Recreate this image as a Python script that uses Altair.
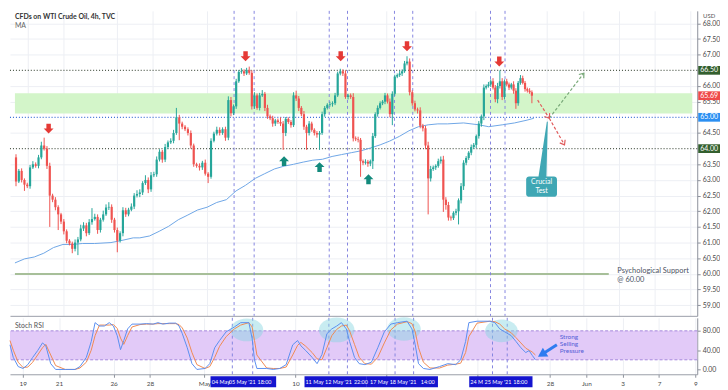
import altair as alt
import numpy as np
import pandas as pd

W, H_TOP, H_BOT = 694, 308, 57
T_MIN, T_MAX = -0.70, 37.10

# ---------------- data (time = trading days since 19 Apr 2021) ----------------
first_open = 63.72
closes = [
    62.95, 63.29, 63.00, 62.85, 62.80, 63.40, 63.50, 63.45, 63.72, 64.10,
    64.00, 63.45, 62.50, 62.37, 62.13, 61.90, 61.67, 61.36, 61.06, 60.97,
    60.80, 61.00, 61.10, 61.45, 61.55, 61.30, 61.65, 61.75, 61.82, 61.40,
    61.73, 61.90, 62.12, 62.14, 61.73, 61.40, 61.06, 61.30, 62.03, 61.90,
    62.05, 62.15, 62.50, 62.55, 62.60, 62.90, 63.00, 62.70, 63.15, 63.18,
    63.65, 63.90, 63.65, 64.05, 64.20, 64.25, 64.50, 65.00, 64.80, 64.70,
    64.62, 64.50, 64.10, 63.50, 63.45, 63.40, 63.55, 63.20, 63.10, 64.25,
    64.48, 64.60, 64.50, 64.62, 64.35, 65.55, 65.13, 65.35, 66.15, 66.45,
    66.47, 66.40, 66.50, 66.42, 65.35, 65.70, 65.30, 65.70, 65.75, 65.30,
    65.03, 64.97, 64.80, 64.90, 64.85, 64.80, 64.50, 64.95, 64.85, 64.75,
    65.70, 65.60, 65.30, 65.10, 64.70, 64.50, 64.80, 64.60, 64.50, 64.45,
    64.50, 65.10, 65.30, 65.40, 65.42, 65.45, 65.70, 66.40, 66.47, 66.40,
    65.65, 65.70, 65.65, 64.33, 64.30, 64.28, 63.60, 63.55, 63.58, 63.52,
    63.60, 64.40, 65.10, 65.30, 65.45, 65.50, 65.70, 65.50, 65.10, 65.75,
    66.30, 66.35, 66.40, 66.47, 66.72, 66.78, 65.80, 65.45, 65.25, 65.22,
    64.73, 64.65, 64.10, 63.05, 63.35, 63.40, 63.45, 63.60, 63.65, 62.37,
    62.20, 61.80, 61.78, 61.95, 62.00, 62.35, 62.80, 63.55, 63.70, 63.87,
    64.05, 64.12, 64.40, 64.80, 65.03, 65.95, 66.00, 66.05, 66.15, 65.95,
    65.58, 66.00, 66.15, 65.65, 66.15, 66.05, 65.95, 66.05, 65.85, 65.45,
    66.10, 66.25, 66.10, 65.90, 65.85, 65.80, 65.69,
]
upper_wick = [
    0.10, 0.06, 0.08, 0.05, 0.06, 0.08, 0.10, 0.06, 0.08, 0.12,
    0.25, 0.08, 0.10, 0.06, 0.08, 0.06, 0.05, 0.08, 0.06, 0.05,
    0.06, 0.10, 0.08, 0.12, 0.10, 0.08, 0.10, 0.35, 0.10, 0.08,
    0.06, 0.12, 0.10, 0.15, 0.08, 0.06, 0.08, 0.06, 0.10, 0.08,
    0.06, 0.10, 0.08, 0.12, 0.10, 0.06, 0.15, 0.08, 0.10, 0.08,
    0.10, 0.08, 0.06, 0.10, 0.06, 0.08, 0.10, 0.30, 0.08, 0.06,
    0.05, 0.06, 0.08, 0.06, 0.05, 0.08, 0.06, 0.10, 0.05, 0.08,
    0.06, 0.10, 0.08, 0.06, 0.08, 0.12, 0.10, 0.06, 0.08, 0.06,
    0.10, 0.06, 0.08, 0.12, 0.08, 0.10, 0.06, 0.08, 0.12, 0.06,
    0.10, 0.06, 0.08, 0.05, 0.06, 0.15, 0.08, 0.06, 0.05, 0.06,
    0.10, 0.15, 0.08, 0.06, 0.10, 0.06, 0.08, 0.06, 0.05, 0.06,
    0.06, 0.08, 0.06, 0.05, 0.08, 0.06, 0.08, 0.06, 0.08, 0.06,
    0.10, 0.05, 0.06, 0.12, 0.06, 0.08, 0.06, 0.05, 0.08, 0.06,
    0.05, 0.10, 0.06, 0.08, 0.06, 0.05, 0.08, 0.06, 0.10, 0.08,
    0.06, 0.05, 0.08, 0.06, 0.08, 0.17, 0.10, 0.06, 0.08, 0.06,
    0.10, 0.06, 0.08, 0.12, 0.10, 0.06, 0.05, 0.08, 0.10, 0.12,
    0.08, 0.10, 0.06, 0.05, 0.08, 0.06, 0.10, 0.08, 0.06, 0.05,
    0.08, 0.06, 0.05, 0.08, 0.06, 0.10, 0.05, 0.08, 0.06, 0.10,
    0.08, 0.10, 0.35, 0.10, 0.06, 0.08, 0.06, 0.05, 0.10, 0.08,
    0.06, 0.10, 0.08, 0.06, 0.05, 0.08, 0.06,
]
lower_wick = [
    0.15, 0.05, 0.08, 0.20, 0.06, 0.08, 0.05, 0.06, 0.08, 0.06,
    0.06, 0.10, 1.00, 0.08, 0.10, 0.50, 0.08, 0.10, 0.08, 0.06,
    0.14, 0.08, 0.40, 0.06, 0.08, 0.10, 0.06, 0.08, 0.05, 0.12,
    0.08, 0.06, 0.05, 0.08, 0.10, 0.08, 0.37, 0.06, 0.10, 0.08,
    0.06, 0.05, 0.08, 0.06, 0.10, 0.08, 0.06, 0.12, 0.08, 0.06,
    0.08, 0.06, 0.10, 0.08, 0.06, 0.05, 0.08, 0.06, 0.53, 0.08,
    0.06, 0.08, 0.10, 0.08, 0.06, 0.10, 0.08, 0.06, 0.20, 0.06,
    0.05, 0.06, 0.08, 0.06, 0.10, 0.08, 0.10, 0.06, 0.08, 0.05,
    0.06, 0.08, 0.05, 0.06, 0.10, 0.08, 0.06, 0.08, 0.05, 0.10,
    0.08, 0.06, 0.10, 0.08, 0.06, 0.08, 0.54, 0.10, 0.06, 0.08,
    0.06, 0.08, 0.10, 0.06, 0.10, 0.54, 0.08, 0.06, 0.08, 0.10,
    0.49, 0.06, 0.08, 0.05, 0.06, 0.08, 0.06, 0.05, 0.06, 0.08,
    0.06, 0.08, 0.06, 0.10, 0.06, 0.08, 0.50, 0.08, 0.06, 0.10,
    0.08, 0.25, 0.06, 0.08, 0.05, 0.06, 0.08, 0.06, 0.10, 0.35,
    0.06, 0.05, 0.06, 0.08, 0.05, 0.06, 0.10, 0.08, 0.06, 0.10,
    0.08, 0.10, 0.12, 1.15, 0.10, 0.06, 0.08, 0.06, 0.08, 0.39,
    0.15, 0.10, 0.08, 0.06, 0.08, 0.42, 0.10, 0.12, 0.08, 0.06,
    0.08, 0.06, 0.10, 0.08, 0.10, 0.12, 0.06, 0.05, 0.08, 0.06,
    0.10, 0.13, 0.08, 0.10, 0.08, 0.06, 0.08, 0.06, 0.10, 0.18,
    0.08, 0.06, 0.05, 0.08, 0.06, 0.05, 0.24,
]
# candle index -> time anchors
anchor_index = [0, 57, 75, 100, 123, 145, 153, 175, 196]
anchor_time = [-0.64, 8.31, 11.21, 14.85, 18.18, 21.18, 22.36, 25.47, 28.15]

ma_time = [-0.70, -0.16, 0.38, 0.91, 1.45, 1.98, 2.52, 3.06, 3.75, 4.66,
           5.20, 5.90, 6.27, 6.81, 7.35, 7.88, 8.42, 8.95, 9.49, 10.03,
           10.56, 11.10, 11.64, 12.17, 12.71, 13.24, 13.78, 14.32, 14.85, 15.39,
           15.92, 16.46, 17.00, 17.53, 18.07, 18.61, 19.14, 19.68, 20.21, 20.75,
           21.29, 21.82, 22.36, 22.90, 23.43, 24.34, 25.20, 25.74, 26.49, 27.18,
           27.88, 28.26]
ma_value = [60.35, 60.48, 60.54, 60.66, 60.84, 60.94, 60.94, 60.97, 60.97, 61.00,
            61.06, 61.15, 61.15, 61.21, 61.36, 61.52, 61.73, 61.88, 62.04, 62.13,
            62.28, 62.37, 62.65, 62.83, 63.05, 63.20, 63.35, 63.44, 63.50, 63.57,
            63.63, 63.66, 63.75, 63.81, 63.87, 63.93, 64.02, 64.12, 64.24, 64.39,
            64.57, 64.70, 64.76, 64.79, 64.79, 64.82, 64.76, 64.70, 64.76, 64.82,
            64.91, 64.97]

stoch_time = [-0.70, -0.52, -0.25, 0.02, 0.28, 0.55, 0.82, 1.09, 1.27, 1.54,
              1.81, 2.34, 2.88, 3.15, 3.50, 3.77, 3.98, 4.22, 4.49, 4.76,
              4.99, 5.20, 5.38, 5.56, 5.77, 6.01, 6.45, 6.81, 7.17, 7.44,
              7.71, 8.06, 8.42, 8.60, 8.78, 9.05, 9.31, 9.58, 10.03, 10.29,
              10.56, 10.83, 11.19, 11.64, 11.99, 12.44, 12.62, 12.75, 12.88, 13.42,
              13.78, 14.14, 14.49, 14.85, 15.12, 15.30, 15.57, 15.92, 16.19, 16.46,
              16.73, 17.00, 17.27, 17.53, 17.80, 17.98, 18.25, 18.51, 18.82, 19.18,
              19.53, 19.89, 20.25, 20.61, 21.14, 21.41, 21.59, 21.77, 22.04, 22.40,
              22.93, 23.38, 23.82, 24.09, 24.36, 24.54, 24.99, 25.70, 25.97, 26.24,
              26.51, 26.87, 27.13, 27.40, 27.67, 27.85, 28.03, 28.20]
stoch_k = [51, 25, 6, 2, 10, 25, 39, 55, 49, 12,
           0, 0, 0, 6, 25, 58, 97, 90, 90, 97,
           90, 70, 41, 60, 84, 94, 94, 95, 94, 97,
           94, 96, 96, 90, 74, 45, 12, 0, 2, 12,
           45, 60, 78, 88, 97, 97, 64, 20, 2, 2,
           0, 2, 10, 51, 60, 49, 39, 25, 12, 31,
           74, 84, 90, 97, 84, 58, 25, 12, 10, 15,
           45, 78, 94, 97, 100, 84, 51, 12, 2, 0,
           6, 12, 10, 20, 58, 97, 100, 100, 97, 84,
           78, 70, 58, 45, 35, 39, 29, 20]
stoch_d = [60, 40, 15, 4, 5, 15, 30, 45, 52, 30,
           8, 0, 0, 3, 15, 40, 70, 92, 92, 92,
           93, 85, 65, 52, 70, 88, 93, 94, 94, 95,
           95, 95, 95, 93, 86, 65, 35, 10, 2, 6,
           25, 48, 68, 84, 92, 97, 88, 60, 30, 3,
           2, 2, 5, 30, 50, 56, 48, 35, 22, 20,
           45, 70, 83, 90, 92, 80, 52, 25, 12, 11,
           25, 55, 82, 94, 99, 95, 78, 45, 15, 3,
           3, 9, 11, 13, 35, 68, 96, 100, 99, 94,
           84, 76, 66, 55, 44, 40, 36, 30]

axis_ticks = [0, 2, 5, 7, 10, 15, 20, 25, 29, 31, 33, 35, 37]
axis_tick_labels = ['19', '21', '26', '28', 'May', '10', '', '', '28', 'Jun', '3', '7', '9']
# price scale labels (66.50, 65.00 and 64.00 are shown by the coloured level tags)
price_ticks = [59.0, 59.5, 60.0, 60.5, 61.0, 61.5, 62.0, 62.5, 63.0, 63.5,
               64.5, 65.5, 66.0, 67.0, 67.5, 68.0]
stoch_ticks = [0, 40, 80]

event_times = [11.53, 12.65, 16.84, 17.86, 20.48, 21.50, 25.84, 26.65]
zone = [65.12, 65.77]
levels = [66.50, 65.00, 64.00]
level_colors = ['#4f5a4c', '#3a6fd6', '#4f5a4c']
psych_level = 60.00
psych_end = 32.44

peak_time = [1.18, 12.17, 17.48, 21.18, 26.33]
peak_price = [64.64, 66.95, 66.95, 67.27, 66.78]
trough_time = [14.32, 16.30, 19.03]
trough_price = [63.60, 63.41, 63.02]

proj_seg = ['a', 'a', 'b', 'b', 'c', 'c']
proj_order = [0, 1, 0, 1, 0, 1]
proj_time = [28.47, 29.12, 29.12, 31.05, 29.12, 29.97]
proj_price = [65.55, 64.97, 64.97, 66.41, 64.97, 64.12]
proj_color = ['#e05a5a', '#e05a5a', '#78a878', '#78a878', '#e05a5a', '#e05a5a']
head_time = [29.12, 31.05, 29.97]
head_price = [64.97, 66.41, 64.12]
head_angle = [57, 308, 60]
head_color = ['#e05a5a', '#78a878', '#e05a5a']

tag_price = [66.50, 65.69, 65.00, 64.00]
tag_text = ['66.50', '65.69', '65.00', '64.00']
tag_color = ['#335f2e', '#ef4a4a', '#2b8ff2', '#335f2e']

callout_time = [27.83, 29.55]
callout_price = [62.46, 63.11]
pointer_time = [29.01, 28.74]
pointer_price = [64.85, 63.10]
pointer_width = [0, 8]
callout_text = ['Crucial', 'Test']
callout_text_time = [28.69, 28.69]
callout_text_price = [62.93, 62.65]

psych_text = ['Psychological Support', '@ 60.00']
psych_text_time = [32.92, 32.92]
psych_text_price = [60.08, 59.80]

date_box_start = [10.33, 15.50, 18.93, 24.56]
date_box_end = [13.94, 18.93, 22.84, 28.04]
date_label_time = [10.90, 12.07, 13.30, 16.05, 17.37, 18.60, 19.60, 20.92, 22.28, 24.97, 26.14, 27.37]
date_label_text = ['04 May', "05 May '21", '18:00', '11 May', "12 May '21", '22:00',
                   '17 May', "18 May '21", '14:00', '24 M', "25 May '21", '18:00']

ellipse_time = [12.33, 17.27, 20.97, 26.33]
ellipse_value = [82, 82, 84, 80]
ellipse_width = [33, 36, 34, 33]

selling_text = ['Strong', 'Selling', 'Pressure']
selling_time = [29.54, 29.54, 29.54]
selling_value = [68, 53, 38]
blue_arrow_time = [29.38, 28.55]
blue_arrow_value = [51, 31]

# ---------------- derived tables ----------------
n = len(closes)
opens = [first_open] + closes[:-1]
candles = pd.DataFrame({
    't': np.interp(np.arange(n), anchor_index, anchor_time),
    'open': opens,
    'close': closes,
})
candles['high'] = np.maximum(candles['open'], candles['close']) + np.array(upper_wick)
candles['low'] = np.minimum(candles['open'], candles['close']) - np.array(lower_wick)
candles['dir'] = np.where(candles['close'] >= candles['open'], 'up', 'down')

xs = alt.Scale(domain=[T_MIN, T_MAX], nice=False, zero=False)
ys_top = alt.Scale(domain=[58.66, 68.40], nice=False, zero=False)
ys_bot = alt.Scale(domain=[-10, 107], nice=False, zero=False)
GRID = '#edeff4'
AX = '#8d919b'

label_expr = ' : '.join(f"datum.value == {v} ? '{s}'" for v, s in zip(axis_ticks, axis_tick_labels)) + " : ''"

x_axis_top = alt.Axis(values=axis_ticks, labels=False, ticks=False, domain=True,
                      domainColor='#9a9ea8', grid=True, gridColor=GRID, title=None)
y_axis_top = alt.Axis(orient='right', values=price_ticks, tickCount=20, format='.2f', grid=True,
                      gridColor=GRID, tickSize=3, tickColor=AX, domainColor=AX, labelFontSize=7,
                      labelColor='#4a4a4a', labelPadding=2, labelOverlap=False, labelFlush=False,
                      title=None)
x_axis_bot = alt.Axis(values=axis_ticks, labelExpr=label_expr, grid=True, gridColor=GRID,
                      tickSize=3, tickColor=AX, domainColor='#9a9ea8', labelFontSize=6.5,
                      labelColor='#4a4a4a', labelPadding=3, labelFlush=False,
                      labelOverlap=False, title=None)
y_axis_bot = alt.Axis(orient='right', values=stoch_ticks, format='.2f', grid=False,
                      tickSize=3, tickColor=AX, domainColor=AX, labelFontSize=7,
                      labelColor='#4a4a4a', labelPadding=2, labelOverlap=False, labelFlush=False,
                      title=None)

ARROW_DOWN = 'M-0.45,-1 L0.45,-1 L0.45,0 L1,0 L0,1 L-1,0 L-0.45,0 Z'
ARROW_UP = 'M-0.45,1 L0.45,1 L0.45,0 L1,0 L0,-1 L-1,0 L-0.45,0 Z'
CHEVRON = 'M-1,-0.75 L0,0 L-1,0.75'
TAG = 'M-1,-0.4 L1,-0.4 L1,0.4 L-1,0.4 Z'
ELLIPSE = 'M-1,0 A1,0.7 0 1,0 1,0 A1,0.7 0 1,0 -1,0 Z'

def Tt(f):
    return alt.X(f, type='quantitative', scale=xs, axis=x_axis_top, title=None)

def Tb(f):
    return alt.X(f, type='quantitative', scale=xs, axis=x_axis_bot, title=None)

def P(f):
    return alt.Y(f, type='quantitative', scale=ys_top, axis=y_axis_top, title=None)

def V(f):
    return alt.Y(f, type='quantitative', scale=ys_bot, axis=y_axis_bot, title=None)

# ---------------- top panel ----------------
band = alt.Chart(pd.DataFrame({'t1': [T_MIN], 't2': [T_MAX], 'p1': [zone[0]], 'p2': [zone[1]]})).mark_rect(
    color='#d3f5c9').encode(x=Tt('t1'), x2='t2:Q', y=P('p1'), y2='p2:Q')

level_lines = alt.Chart(pd.DataFrame({'p': levels, 'c': level_colors})).mark_rule(
    strokeDash=[1, 2], strokeWidth=1.2).encode(y=P('p'), color=alt.Color('c:N', scale=None))

psych_line = alt.Chart(pd.DataFrame({'t1': [T_MIN], 't2': [psych_end], 'p': [psych_level]})).mark_rule(
    color='#a7bf99', strokeWidth=2).encode(x=Tt('t1'), x2='t2:Q', y=P('p'))

event_df = pd.DataFrame({'t': event_times})
vlines_top = alt.Chart(event_df).mark_rule(strokeDash=[3, 3], color='#8585e0', strokeWidth=1).encode(x=Tt('t'))

ma_line = alt.Chart(pd.DataFrame({'t': ma_time, 'p': ma_value})).mark_line(
    color='#6ea6e6', strokeWidth=1).encode(x=Tt('t'), y=P('p'))

cscale = alt.Scale(domain=['up', 'down'], range=['#26a69a', '#ef5350'])
wicks = alt.Chart(candles).mark_rule(strokeWidth=1).encode(
    x=Tt('t'), y=P('low'), y2='high:Q', color=alt.Color('dir:N', scale=cscale, legend=None))
bodies = alt.Chart(candles).mark_bar(size=2.2).encode(
    x=Tt('t'), y=P('open'), y2='close:Q', color=alt.Color('dir:N', scale=cscale, legend=None))

peaks = alt.Chart(pd.DataFrame({'t': peak_time, 'p': peak_price})).mark_point(
    shape=ARROW_DOWN, filled=True, size=100, opacity=1, color='#e53935').encode(x=Tt('t'), y=P('p'))
troughs = alt.Chart(pd.DataFrame({'t': trough_time, 'p': trough_price})).mark_point(
    shape=ARROW_UP, filled=True, size=100, opacity=1, color='#138a7c').encode(x=Tt('t'), y=P('p'))

proj = alt.Chart(pd.DataFrame({'seg': proj_seg, 'o': proj_order, 't': proj_time, 'p': proj_price, 'c': proj_color})).mark_line(
    strokeDash=[3, 2], strokeWidth=1.2).encode(
    x=Tt('t'), y=P('p'), detail='seg:N', order=alt.Order('o:Q'), color=alt.Color('c:N', scale=None))
heads = alt.Chart(pd.DataFrame({'t': head_time, 'p': head_price, 'a': head_angle, 'c': head_color})).mark_point(
    shape=CHEVRON, filled=False, strokeWidth=1.2, size=70, opacity=1).encode(
    x=Tt('t'), y=P('p'), angle=alt.Angle('a:Q', scale=None), color=alt.Color('c:N', scale=None))

pointer = alt.Chart(pd.DataFrame({'t': pointer_time, 'p': pointer_price, 'w': pointer_width, 'o': [0, 1]})).mark_trail(
    color='#3fa7b4').encode(x=Tt('t'), y=P('p'), size=alt.Size('w:Q', scale=None, legend=None), order=alt.Order('o:Q'))
callout = alt.Chart(pd.DataFrame({'t1': [callout_time[0]], 't2': [callout_time[1]],
                                  'p1': [callout_price[0]], 'p2': [callout_price[1]]})).mark_rect(
    color='#3fa7b4', cornerRadius=3).encode(x=Tt('t1'), x2='t2:Q', y=P('p1'), y2='p2:Q')
callout_lbl = alt.Chart(pd.DataFrame({'t': callout_text_time, 'p': callout_text_price, 's': callout_text})).mark_text(
    color='white', fontSize=7).encode(x=Tt('t'), y=P('p'), text='s:N')

psych_lbl = alt.Chart(pd.DataFrame({'t': psych_text_time, 'p': psych_text_price, 's': psych_text})).mark_text(
    color='#4b5262', fontSize=7.5, align='left').encode(x=Tt('t'), y=P('p'), text='s:N')

tags = alt.Chart(pd.DataFrame({'p': tag_price, 'c': tag_color})).mark_point(
    shape=TAG, filled=True, size=484, opacity=1).encode(
    x=alt.value(W + 12), y=P('p'), color=alt.Color('c:N', scale=None))
tag_lbl = alt.Chart(pd.DataFrame({'p': tag_price, 's': tag_text})).mark_text(
    color='white', fontSize=7).encode(x=alt.value(W + 12), y=P('p'), text='s:N')

title_df = pd.DataFrame({'s': ['CFDs on WTI Crude Oil, 4h, TVC']})
title = alt.Chart(title_df).mark_text(align='left', fontSize=7, fontWeight='bold', color='#333').encode(
    x=alt.value(5), y=alt.value(6), text='s:N')
ma_lbl = alt.Chart(pd.DataFrame({'s': ['MA']})).mark_text(align='left', fontSize=7, color='#666').encode(
    x=alt.value(5), y=alt.value(15), text='s:N')
usd = alt.Chart(pd.DataFrame({'s': ['USD']})).mark_text(fontSize=6, color='#555').encode(
    x=alt.value(W + 12), y=alt.value(5), text='s:N')

top = alt.layer(band, level_lines, psych_line, vlines_top, ma_line, wicks, bodies, peaks, troughs,
                proj, heads, pointer, callout, callout_lbl, psych_lbl, tags, tag_lbl, title, ma_lbl, usd
                ).properties(width=W, height=H_TOP)

# ---------------- bottom panel ----------------
pband = alt.Chart(pd.DataFrame({'t1': [T_MIN], 't2': [T_MAX], 'v1': [20], 'v2': [80]})).mark_rect(
    color='#e2caf8').encode(x=Tb('t1'), x2='t2:Q', y=V('v1'), y2='v2:Q')
pband_edges = alt.Chart(pd.DataFrame({'v': [20, 80]})).mark_rule(
    strokeDash=[3, 2], color='#a587dc', strokeWidth=1).encode(y=V('v'))
vlines_bot = alt.Chart(event_df).mark_rule(strokeDash=[3, 3], color='#8585e0', strokeWidth=1).encode(x=Tb('t'))
ellipses = alt.Chart(pd.DataFrame({'t': ellipse_time, 'v': ellipse_value,
                                   's': [w * w for w in ellipse_width]})).mark_point(
    shape=ELLIPSE, filled=True, opacity=0.45, color='#84d4e0').encode(
    x=Tb('t'), y=V('v'), size=alt.Size('s:Q', scale=None, legend=None))
stoch_df = pd.DataFrame({'t': stoch_time, 'k': stoch_k, 'd': stoch_d})
d_line = alt.Chart(stoch_df).mark_line(color='#f08a52', strokeWidth=1).encode(x=Tb('t'), y=V('d'))
k_line = alt.Chart(stoch_df).mark_line(color='#5a8ff0', strokeWidth=1).encode(x=Tb('t'), y=V('k'))
blue_arrow = alt.Chart(pd.DataFrame({'t': blue_arrow_time, 'v': blue_arrow_value})).mark_line(
    color='#2f7cf0', strokeWidth=3).encode(x=Tb('t'), y=V('v'))
blue_head = alt.Chart(pd.DataFrame({'t': [blue_arrow_time[1]], 'v': [blue_arrow_value[1]]})).mark_point(
    shape='triangle-right', filled=True, size=110, angle=148, opacity=1, color='#2f7cf0').encode(x=Tb('t'), y=V('v'))
selling = alt.Chart(pd.DataFrame({'t': selling_time, 'v': selling_value, 's': selling_text})).mark_text(
    align='left', fontSize=6.5, color='#5560d6').encode(x=Tb('t'), y=V('v'), text='s:N')
stoch_lbl = alt.Chart(pd.DataFrame({'s': ['Stoch RSI']})).mark_text(align='left', fontSize=7, color='#555').encode(
    x=alt.value(5), y=alt.value(8), text='s:N')
date_boxes = alt.Chart(pd.DataFrame({'t1': date_box_start, 't2': date_box_end})).mark_rect(
    color='#1414cf').encode(x=Tb('t1'), x2='t2:Q', y=alt.value(H_BOT + 2), y2=alt.value(H_BOT + 13))
date_lbls = alt.Chart(pd.DataFrame({'t': date_label_time, 's': date_label_text})).mark_text(
    color='white', fontSize=5.5).encode(x=Tb('t'), y=alt.value(H_BOT + 7.5), text='s:N')

bot = alt.layer(pband, pband_edges, vlines_bot, ellipses, d_line, k_line, blue_arrow, blue_head,
                selling, stoch_lbl, date_boxes, date_lbls).properties(width=W, height=H_BOT)

chart = alt.vconcat(top, bot, spacing=0, padding=0).configure(
    font='Lato', view=alt.ViewConfig(strokeWidth=0)
).configure_axisY(labelOverlap=False, labelFlush=False)

chart.save("out.html", embed_options={"renderer": "svg", "actions": False})
